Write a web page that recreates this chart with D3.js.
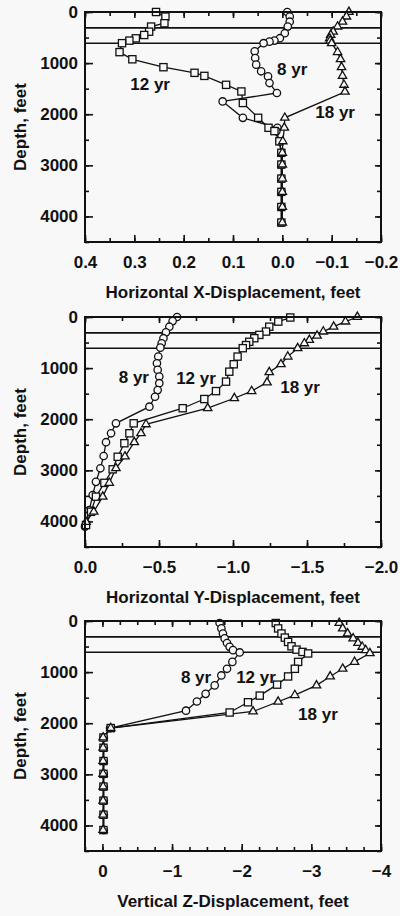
<!DOCTYPE html>
<html>
<head>
<meta charset="utf-8">
<script src="https://cdn.jsdelivr.net/npm/d3@7"></script>
<style>
  html, body { margin: 0; padding: 0; background: #f8f8f8; }
  svg { display: block; }
  text { font-family: "Liberation Sans", Arial, Helvetica, sans-serif; font-weight: bold; fill: #111; }
</style>
</head>
<body>
<svg id="chart" width="400" height="916"></svg>
<script>
// ---- Horizontal X-displacement vs depth ----
const x8Depth  = [0, 90, 190, 285, 415, 513, 560, 580, 610, 770, 900, 1030, 1160, 1260, 1390, 1585, 1750, 2070, 2265, 2330, 2530, 2755, 2985, 3260, 3520, 3815, 4120];
const x8Value  = [-0.010, -0.015, -0.015, -0.011, -0.005, 0.005, 0.016, 0.026, 0.038, 0.056, 0.055, 0.053, 0.043, 0.029, 0.026, 0.011, 0.121, 0.080, 0.010, 0.012, 0.006, 0.002, 0.002, 0.002, 0.002, 0.002, 0.002];
const x12Depth = [0, 90, 220, 285, 385, 450, 515, 560, 610, 785, 925, 1080, 1190, 1250, 1425, 1555, 1780, 2070, 2265, 2330, 2530, 2755, 2985, 3260, 3520, 3815, 4120];
const x12Value = [0.256, 0.237, 0.239, 0.266, 0.270, 0.280, 0.297, 0.310, 0.325, 0.330, 0.304, 0.241, 0.178, 0.158, 0.114, 0.083, 0.080, 0.049, 0.028, 0.016, 0.006, 0.002, 0.002, 0.002, 0.002, 0.002, 0.002];
const x18Depth = [0, 90, 190, 285, 385, 450, 515, 560, 610, 785, 925, 1080, 1250, 1425, 1560, 2070, 2265, 2530, 2755, 2985, 3260, 3520, 3815, 4120];
const x18Value = [-0.135, -0.130, -0.122, -0.112, -0.103, -0.098, -0.096, -0.097, -0.100, -0.112, -0.118, -0.120, -0.122, -0.125, -0.127, -0.005, -0.004, -0.001, 0.000, 0.000, 0.000, 0.000, 0.000, 0.000];

// ---- Horizontal Y-displacement vs depth ----
const y8Depth  = [0, 80, 190, 300, 415, 515, 600, 775, 905, 1035, 1165, 1295, 1430, 1560, 1755, 2080, 2275, 2450, 2720, 2960, 3225, 3485, 3780, 4100];
const y8Value  = [-0.622, -0.592, -0.570, -0.547, -0.530, -0.518, -0.509, -0.495, -0.486, -0.491, -0.502, -0.502, -0.491, -0.473, -0.435, -0.209, -0.176, -0.142, -0.126, -0.104, -0.074, -0.052, -0.029, 0.000];
const y12Depth = [10, 90, 190, 285, 350, 415, 485, 550, 610, 775, 925, 1070, 1265, 1450, 1605, 1785, 2080, 2275, 2470, 2735, 2980, 3245, 3515, 3810, 4070];
const y12Value = [-1.387, -1.306, -1.245, -1.223, -1.178, -1.144, -1.110, -1.088, -1.066, -1.031, -1.005, -0.975, -0.953, -0.885, -0.806, -0.660, -0.329, -0.300, -0.266, -0.221, -0.187, -0.131, -0.074, -0.041, -0.007];
const y18Depth = [0, 90, 190, 285, 365, 450, 515, 610, 775, 925, 1080, 1280, 1450, 1590, 1785, 2100, 2275, 2450, 2730, 2960, 3245, 3515, 3810, 4010];
const y18Value = [-1.840, -1.760, -1.680, -1.610, -1.568, -1.516, -1.482, -1.437, -1.370, -1.324, -1.245, -1.230, -1.126, -1.009, -0.829, -0.412, -0.378, -0.333, -0.270, -0.209, -0.164, -0.120, -0.059, -0.007];

// ---- Vertical Z-displacement vs depth ----
const z8Depth  = [40, 145, 245, 340, 430, 505, 570, 615, 800, 935, 1065, 1260, 1425, 1575, 1755, 2095, 2280, 2480, 2740, 2990, 3240, 3515, 3790, 4090];
const z8Value  = [-1.683, -1.708, -1.730, -1.755, -1.789, -1.827, -1.875, -1.971, -1.866, -1.789, -1.708, -1.612, -1.482, -1.357, -1.200, -0.110, -0.020, -0.020, -0.020, -0.020, -0.020, -0.020, -0.020, -0.020];
const z12Depth = [40, 145, 245, 325, 410, 495, 560, 605, 635, 800, 935, 1085, 1245, 1460, 1590, 1790, 2095, 2280, 2480, 2740, 2990, 3240, 3515, 3790, 4090];
const z12Value = [-2.489, -2.523, -2.571, -2.619, -2.666, -2.715, -2.787, -2.873, -2.954, -2.810, -2.763, -2.666, -2.508, -2.259, -2.090, -1.827, -0.120, -0.015, -0.015, -0.015, -0.015, -0.015, -0.015, -0.015, -0.015];
const z18Depth = [40, 145, 245, 340, 430, 505, 570, 630, 800, 935, 1085, 1260, 1450, 1580, 1770, 2095, 2280, 2480, 2740, 2990, 3240, 3515, 3790, 4090];
const z18Value = [-3.400, -3.450, -3.520, -3.600, -3.670, -3.730, -3.780, -3.840, -3.620, -3.450, -3.270, -3.074, -2.763, -2.523, -2.163, -0.120, -0.010, -0.010, -0.010, -0.010, -0.010, -0.010, -0.010, -0.010];

// ---- Axes, ticks and annotations ----
const depthTicks   = [0, 1000, 2000, 3000, 4000];
const layerDepths  = [310, 610];
const seriesNames  = ["8 yr", "12 yr", "18 yr"];
const xTicksTop    = [0.4, 0.3, 0.2, 0.1, 0.0, -0.1, -0.2];
const xTicksMid    = [0.0, -0.5, -1.0, -1.5, -2.0];
const xTicksBot    = [0, -1, -2, -3, -4];
const xTitles      = ["Horizontal X-Displacement, feet", "Horizontal Y-Displacement, feet", "Vertical Z-Displacement, feet"];
// label anchor points (displacement, depth) for each panel: 8 yr, 12 yr, 18 yr
const labelTopX = [-0.020, 0.268, -0.107], labelTopD = [1110, 1403, 1948];
const labelMidX = [-0.330, -0.750, -1.453], labelMidD = [1174, 1193, 1370];
const labelBotX = [-1.344, -2.205, -3.095], labelBotD = [1105, 1105, 1816];

const panels = [
  { top: 12,  domain: [0.4, -0.2], major: xTicksTop, minorStep: 0.05, fmt: d3.format(".1f"),
    title: xTitles[0], depths: [x8Depth, x12Depth, x18Depth], values: [x8Value, x12Value, x18Value],
    labX: labelTopX, labD: labelTopD },
  { top: 317, domain: [0, -2],     major: xTicksMid, minorStep: 0.25, fmt: d3.format(".1f"),
    title: xTitles[1], depths: [y8Depth, y12Depth, y18Depth], values: [y8Value, y12Value, y18Value],
    labX: labelMidX, labD: labelMidD },
  { top: 621, domain: [0.25, -4],  major: xTicksBot, minorStep: 0.25, fmt: d3.format("d"),
    title: xTitles[2], depths: [z8Depth, z12Depth, z18Depth], values: [z8Value, z12Value, z18Value],
    labX: labelBotX, labD: labelBotD }
];

const left = 85, right = 381, plotH = 230;
const fontSize = 17;
const svg = d3.select("#chart");
const bg = "#f8f8f8";

const shapes = ["circle", "square", "triangle"];
function marker(g, shape, x, y) {
  if (shape === "circle") {
    g.append("circle").attr("cx", x).attr("cy", y).attr("r", 3.7);
  } else if (shape === "square") {
    g.append("rect").attr("x", x - 3.6).attr("y", y - 3.6).attr("width", 7.2).attr("height", 7.2);
  } else {
    const s = 8.4, h = s * Math.sqrt(3) / 2;
    g.append("path").attr("d", `M${x},${y - h * 2 / 3}L${x + s / 2},${y + h / 3}L${x - s / 2},${y + h / 3}Z`);
  }
}

panels.forEach(p => {
  const bottom = p.top + plotH;
  const x = d3.scaleLinear().domain(p.domain).range([left, right]);
  const y = d3.scaleLinear().domain([0, 4500]).range([p.top, bottom]);
  const g = svg.append("g");

  const lo = Math.min(...p.domain), hi = Math.max(...p.domain);
  const minor = d3.range(Math.round(lo / p.minorStep), Math.round(hi / p.minorStep) + 1).map(i => +(i * p.minorStep).toFixed(3));
  const minorDepth = d3.range(0, 4501, 500);

  // minor ticks on all four sides
  g.append("g").attr("transform", `translate(0,${bottom})`).call(d3.axisBottom(x).tickValues(minor).tickSize(-4).tickFormat(""));
  g.append("g").attr("transform", `translate(0,${p.top})`).call(d3.axisTop(x).tickValues(minor).tickSize(-4).tickFormat(""));
  g.append("g").attr("transform", `translate(${left},0)`).call(d3.axisLeft(y).tickValues(minorDepth).tickSize(-4).tickFormat(""));
  g.append("g").attr("transform", `translate(${right},0)`).call(d3.axisRight(y).tickValues(minorDepth).tickSize(-4).tickFormat(""));

  // major ticks with labels
  g.append("g").attr("transform", `translate(0,${bottom})`)
    .call(d3.axisBottom(x).tickValues(p.major).tickSize(-7).tickPadding(14).tickFormat(p.fmt));
  g.append("g").attr("transform", `translate(0,${p.top})`)
    .call(d3.axisTop(x).tickValues(p.major).tickSize(-6).tickFormat(""));
  g.append("g").attr("transform", `translate(${left},0)`)
    .call(d3.axisLeft(y).tickValues(depthTicks).tickSize(-8).tickPadding(7).tickFormat(d3.format("d")));
  g.append("g").attr("transform", `translate(${right},0)`)
    .call(d3.axisRight(y).tickValues(depthTicks).tickSize(-6).tickFormat(""));

  g.selectAll(".domain").remove();
  g.selectAll(".tick line").attr("stroke", "#111").attr("stroke-width", 1.6);
  g.selectAll(".tick text").attr("font-size", fontSize).attr("font-family", null).attr("fill", "#111");

  // layer boundaries
  layerDepths.forEach(d => {
    g.append("line").attr("x1", left).attr("x2", right).attr("y1", y(d)).attr("y2", y(d))
      .attr("stroke", "#111").attr("stroke-width", 1.6);
  });

  // series lines
  const line = d3.line().x(d => x(d[1])).y(d => y(d[0]));
  p.depths.forEach((dep, i) => {
    const pts = dep.map((d, k) => [d, p.values[i][k]]);
    g.append("path").datum(pts).attr("d", line)
      .attr("fill", "none").attr("stroke", "#111").attr("stroke-width", 1.3);
  });
  // markers (circles, then squares, then triangles on top)
  p.depths.forEach((dep, i) => {
    const mg = g.append("g").attr("fill", bg).attr("stroke", "#111").attr("stroke-width", 1.3);
    dep.forEach((d, k) => marker(mg, shapes[i], x(p.values[i][k]), y(d)));
  });

  // frame
  g.append("rect").attr("x", left).attr("y", p.top).attr("width", right - left).attr("height", plotH)
    .attr("fill", "none").attr("stroke", "#111").attr("stroke-width", 2);

  // series labels
  seriesNames.forEach((name, i) => {
    g.append("text").attr("x", x(p.labX[i])).attr("y", y(p.labD[i]) + 6)
      .attr("text-anchor", "middle").attr("font-size", fontSize).text(name);
  });

  // axis titles
  g.append("text").attr("x", (left + right) / 2).attr("y", bottom + 56)
    .attr("text-anchor", "middle").attr("font-size", fontSize).text(p.title);
  g.append("text")
    .attr("transform", `translate(26,${(p.top + bottom) / 2}) rotate(-90)`)
    .attr("text-anchor", "middle").attr("font-size", fontSize).text("Depth, feet");
});
</script>
</body>
</html>
